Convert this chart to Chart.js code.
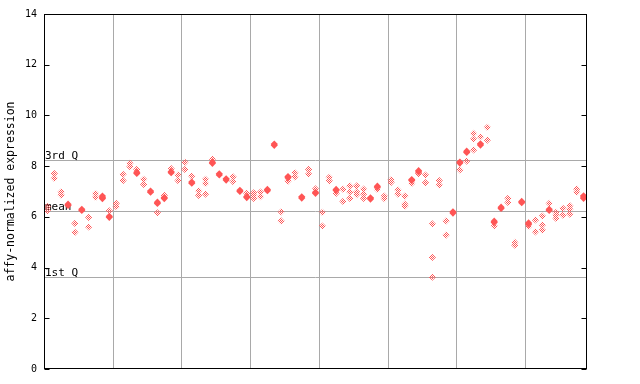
<!DOCTYPE html>
<html>
<head>
<meta charset="utf-8">
<script src="https://cdn.jsdelivr.net/npm/chart.js@4.4.1/dist/chart.umd.min.js"></script>
<style>
html,body{margin:0;padding:0;background:#fff;}
#wrap{width:640px;height:384px;}
</style>
</head>
<body>
<div id="wrap"><canvas id="c" width="640" height="384"></canvas></div>
<script>
// ---- data ----
const samples = Array.from({length: 79}, (_, i) => String(i + 1));
const rep1 = [6.40,7.71,6.99,6.50,5.74,6.30,5.98,6.92,6.82,6.24,
              6.53,7.68,8.11,7.87,7.48,7.02,6.58,6.85,7.90,7.65,
              8.15,7.61,7.03,7.48,8.28,7.70,7.50,7.58,7.05,6.93,
              6.95,6.98,7.08,8.87,6.20,7.59,7.74,6.79,7.87,7.10,
              6.18,7.56,7.08,7.09,7.22,7.22,7.09,6.75,7.21,6.82,
              7.46,7.06,6.82,7.47,7.82,7.65,5.72,7.43,5.84,6.20,
              8.16,8.59,9.29,9.16,9.53,5.83,6.38,6.73,4.99,6.61,
              5.76,5.88,6.03,6.53,6.18,6.34,6.44,7.10,6.83];
const rep2 = [6.24,7.52,6.86,6.45,5.39,6.25,5.60,6.77,6.76,6.02,
              6.40,7.43,7.98,7.76,7.28,6.97,6.53,6.76,7.78,7.43,
              7.87,7.37,6.85,7.32,8.15,7.65,7.45,7.39,7.00,6.80,
              6.85,6.80,7.03,8.82,5.84,7.54,7.58,6.74,7.69,6.97,
              5.64,7.42,7.04,6.61,6.98,6.98,6.90,6.70,7.17,6.72,
              7.36,6.90,6.50,7.43,7.77,7.35,4.40,7.26,5.28,6.15,
              8.12,8.54,9.07,8.88,9.03,5.78,6.33,6.57,4.88,6.56,
              5.71,5.41,5.68,6.30,6.07,6.07,6.30,6.97,6.78];
const rep3 = [null,null,null,null,null,null,null,null,6.72,5.98,
              null,null,null,7.71,null,null,6.16,6.72,7.74,null,
              null,7.33,null,6.90,8.11,null,null,null,null,6.76,
              6.73,null,null,null,null,7.41,null,null,null,6.93,
              null,null,6.93,null,6.73,6.88,6.73,null,7.08,null,
              null,null,6.42,7.32,7.70,null,3.62,null,null,null,
              7.85,8.20,8.64,8.83,null,5.64,null,null,null,null,
              5.62,null,5.48,6.25,5.94,null,6.11,null,6.73];
const refNames = ["3rd Q", "mean", "1st Q"];
const refValues = [8.23, 6.23, 3.62];
const groupSize = 10;
const yTitle = "affy-normalized expression";

// ---- styling ----
const RED = "rgb(255,85,85)";
const GRID = "#a9a9a9";
const pc = document.createElement("canvas");
pc.width = 2; pc.height = 2;
const pctx = pc.getContext("2d");
pctx.fillStyle = RED;
pctx.fillRect(0, 0, 1, 1);
pctx.fillRect(1, 1, 1, 1);
const ctx0 = document.getElementById("c").getContext("2d");
const hatch = ctx0.createPattern(pc, "repeat");
const reps = [rep1, rep2, rep3];

function fillFor(ctx) {
  const i = ctx.dataIndex, d = ctx.datasetIndex;
  const v = reps[d][i];
  if (v == null) return hatch;
  for (let k = 0; k < reps.length; k++) {
    if (k === d) continue;
    const w = reps[k][i];
    if (w != null && Math.abs(w - v) <= 0.065) return RED;
  }
  return hatch;
}

const frame = {
  id: "frame",
  beforeDatasetsDraw(chart) {
    const {ctx, chartArea: ca, scales: {x, y}} = chart;
    ctx.save();
    ctx.strokeStyle = GRID;
    ctx.lineWidth = 1;
    const step = x.getPixelForValue(1) - x.getPixelForValue(0);
    for (let i = groupSize; i < samples.length; i += groupSize) {
      const px = Math.round(x.getPixelForValue(i) - step / 2) + 0.5;
      ctx.beginPath(); ctx.moveTo(px, ca.top); ctx.lineTo(px, ca.bottom); ctx.stroke();
    }
    ctx.font = "11px 'DejaVu Sans Mono'";
    ctx.textBaseline = "alphabetic";
    ctx.textAlign = "left";
    refValues.forEach((v, k) => {
      const py = Math.round(y.getPixelForValue(v)) + 0.5;
      ctx.strokeStyle = GRID;
      ctx.beginPath(); ctx.moveTo(ca.left, py); ctx.lineTo(ca.right, py); ctx.stroke();
      ctx.fillStyle = "#000";
      ctx.fillText(refNames[k], ca.left + 1, py - 1.5);
    });
    ctx.restore();
  },
  afterDraw(chart) {
    const {ctx, chartArea: ca, scales: {y}} = chart;
    ctx.save();
    ctx.strokeStyle = "#000";
    ctx.lineWidth = 1;
    const l = Math.round(ca.left) + 0.5, r = Math.round(ca.right) - 0.5;
    const t = Math.round(ca.top) + 0.5, b = Math.round(ca.bottom) - 0.5;
    ctx.strokeRect(l, t, r - l, b - t);
    y.ticks.forEach(tk => {
      const py = Math.round(y.getPixelForValue(tk.value)) + 0.5;
      ctx.beginPath();
      ctx.moveTo(l, py); ctx.lineTo(l + 5, py);
      ctx.moveTo(r, py); ctx.lineTo(r - 5, py);
      ctx.stroke();
    });
    ctx.restore();
  }
};

const dsBase = {
  showLine: false,
  pointStyle: "rectRot",
  pointRadius: 3.6,
  pointHoverRadius: 3.6,
  pointBorderWidth: 0,
  pointBorderColor: "rgba(0,0,0,0)",
  pointBackgroundColor: fillFor,
  borderColor: RED,
  spanGaps: false
};

new Chart(document.getElementById("c"), {
  type: "line",
  data: {
    labels: samples,
    datasets: reps.map((r, k) => Object.assign({label: "rep" + (k + 1), data: r}, dsBase))
  },
  options: {
    responsive: false,
    devicePixelRatio: 1,
    animation: false,
    events: [],
    layout: {padding: {left: 0, right: 53, top: 14, bottom: 0}},
    plugins: {legend: {display: false}, tooltip: {enabled: false}},
    scales: {
      x: {
        type: "category",
        offset: true,
        grid: {display: false, drawTicks: false},
        border: {display: false},
        ticks: {display: false},
        afterFit(s) { s.height = 15; }
      },
      y: {
        min: 0, max: 14,
        grid: {display: false, drawTicks: false},
        border: {display: false},
        ticks: {stepSize: 2, padding: 7, color: "#000",
                font: {family: "'DejaVu Sans Mono'", size: 10}},
        title: {display: true, text: yTitle, color: "#000", padding: {top: 4, bottom: 0},
                font: {family: "'DejaVu Sans Mono'", size: 11.5}},
        afterFit(s) { s.width = 44; }
      }
    }
  },
  plugins: [frame]
});
</script>
</body>
</html>
